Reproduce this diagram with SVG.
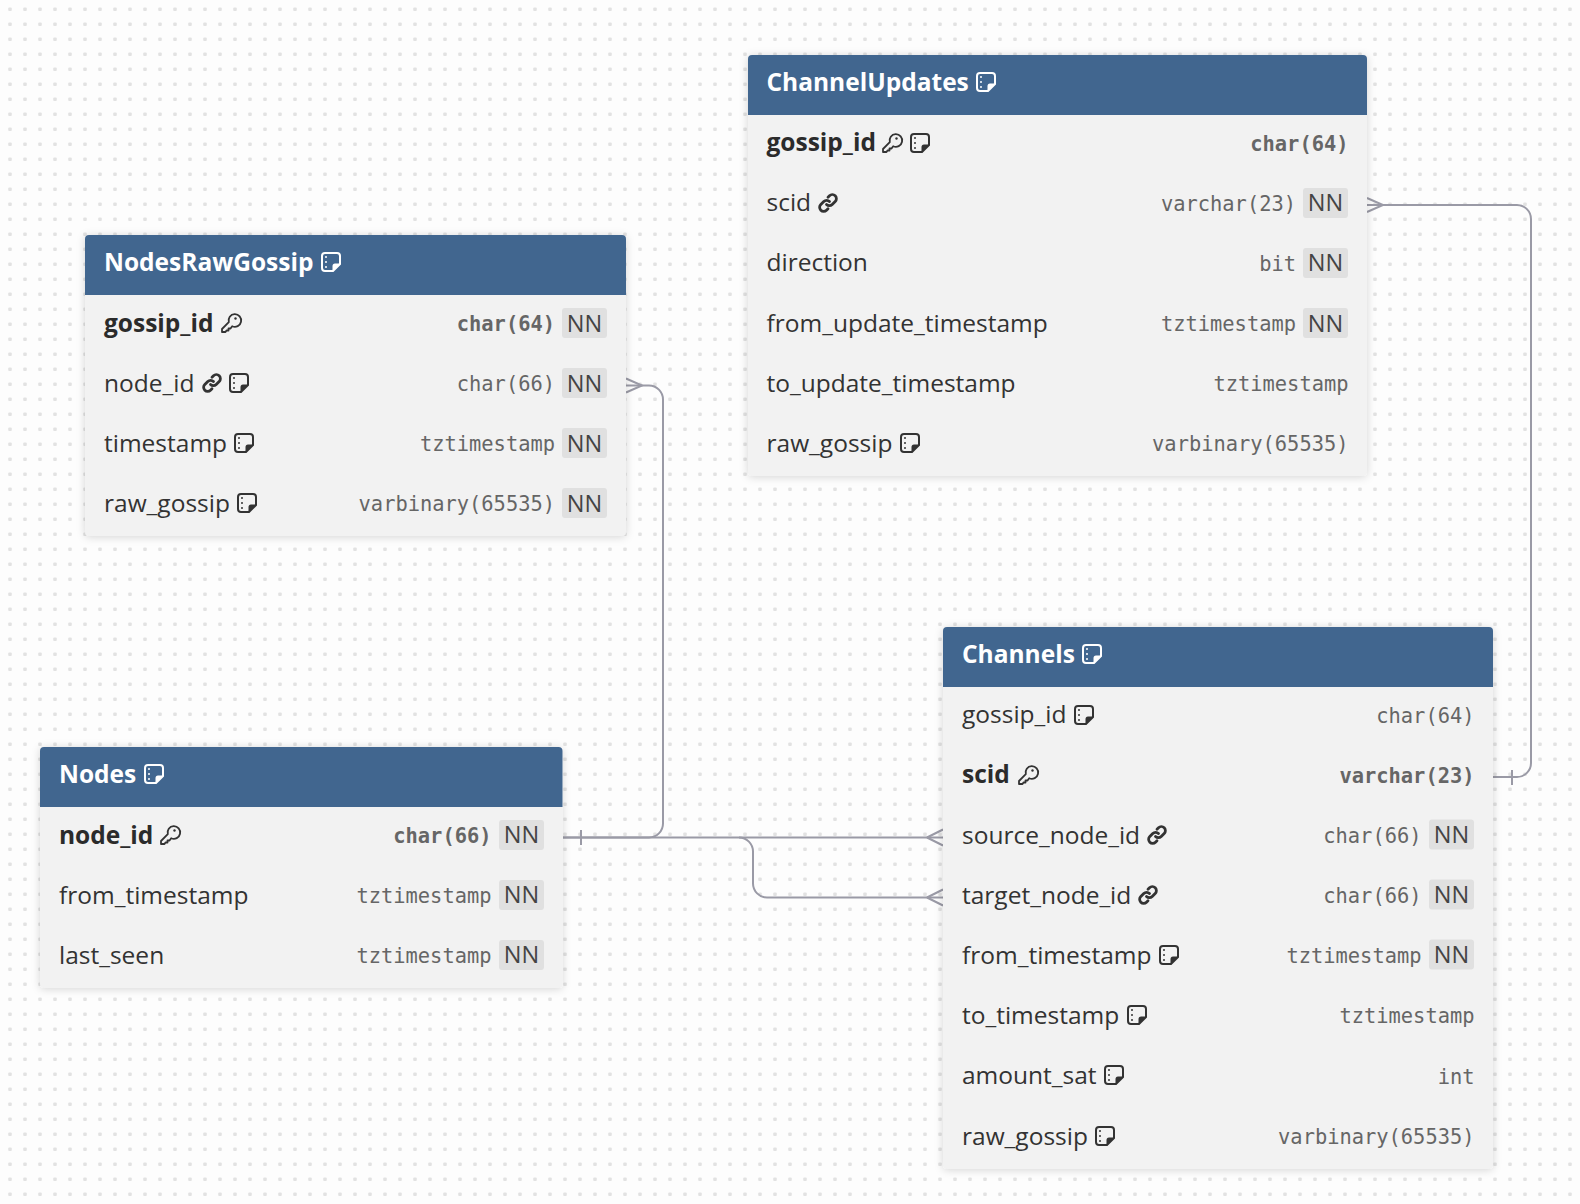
<svg xmlns="http://www.w3.org/2000/svg" width="1580" height="1204" viewBox="0 0 1580 1204">
<style>
.body{fill:#f2f2f2}
.hd{fill:#41668f}
.title{font:700 24.500px "Open Sans",sans-serif;fill:#fff}
.n{font:400 24.500px "Open Sans",sans-serif;fill:#333}
.pk{font:700 24.500px "Open Sans",sans-serif;fill:#2b2b2b}
.t{font:400 20.400px "DejaVu Sans Mono",monospace;fill:#666;text-anchor:end}
.tb{font:700 20.400px "DejaVu Sans Mono",monospace;fill:#666;text-anchor:end}
.nn{font:400 23.500px "Open Sans",sans-serif;fill:#444;text-anchor:middle}
.chip{fill:#e0e0e0}
.c{fill:none;stroke:#9a9aa6;stroke-width:2}
.i{color:#333}
.w{color:#fff}
</style>
<defs>
<pattern id="dots" width="15" height="15" patternUnits="userSpaceOnUse"><rect x="8.200" y="7.500" width="3.600" height="3.600" rx="1" fill="#e2e2e2"/></pattern>
<filter id="sh" x="-5%" y="-5%" width="110%" height="110%"><feDropShadow dx="0" dy="1" stdDeviation="4" flood-color="#000" flood-opacity="0.16"/></filter>
<symbol id="note" viewBox="0 0 20 20" width="20" height="20" overflow="visible"><path d="M4 1H16a3 3 0 0 1 3 3V12L12 19H4a3 3 0 0 1-3-3V4a3 3 0 0 1 3-3Z" fill="none" stroke="currentColor" stroke-width="2"/><path d="M11.500 19.500V14a2.500 2.500 0 0 1 2.500-2.500H19.500Z" fill="currentColor"/><path d="M5 5v.1M5 10v.1M5 15v.1" stroke="currentColor" stroke-width="2" stroke-linecap="round"/></symbol>
<symbol id="key" viewBox="0 0 20 20" width="20" height="20" overflow="visible"><path d="M7.800 9.200L1 16V19H4.500L5.500 17.500H7.500V15.500H9.500L11.200 13.200A6.300 6.300 0 1 0 7.800 9.200Z" fill="none" stroke="currentColor" stroke-width="1.800" stroke-linejoin="round"/><circle cx="14.500" cy="5.500" r="1.200" fill="currentColor"/></symbol>
<symbol id="link" viewBox="0 0 20 20" width="20" height="20" overflow="visible"><g fill="none" stroke="currentColor" stroke-width="2.800" stroke-linecap="round"><path d="M8.500 11.500a4 4 0 0 0 5.700 0l3-3a4 4 0 0 0-5.700-5.700l-1.500 1.500"/><path d="M11.500 8.500a4 4 0 0 0-5.700 0l-3 3a4 4 0 0 0 5.700 5.700l1.500-1.500"/></g></symbol>
</defs>
<rect width="1580" height="1204" fill="#fdfdfd"/>
<rect width="1580" height="1204" fill="url(#dots)"/>

<g id="connectors">
<path class="c" d="M626 385.500H649a14 14 0 0 1 14 14V823.500a14 14 0 0 1-14 14H563"/>
<path class="c" d="M626 378.500L642 385.500L626 392.500"/>
<path class="c" d="M581 830V845"/>
<path class="c" d="M563 837.500H943"/>
<path class="c" d="M927 837.500L943 829.500M927 837.500L943 845.500"/>
<path class="c" d="M739 837.500a14 14 0 0 1 14 14V883.500a14 14 0 0 0 14 14H943"/>
<path class="c" d="M927 897.500L943 889.500M927 897.500L943 905.500"/>
<path class="c" d="M1367 205H1517a14 14 0 0 1 14 14V763a14 14 0 0 1-14 14H1493"/>
<path class="c" d="M1367 198L1383 205L1367 212"/>
<path class="c" d="M1512 770V785"/>
</g>

<g id="NodesRawGossip">
<rect class="body" x="85" y="235" width="541" height="301" rx="4" filter="url(#sh)"/>
<path class="hd" d="M85 295V239a4 4 0 0 1 4-4H622a4 4 0 0 1 4 4V295Z"/>
<text class="title" x="104" y="271">NodesRawGossip</text><use href="#note" class="w" x="321" y="252"/>
<text class="pk" x="104" y="332">gossip_id</text><use href="#key" class="i" x="221" y="313"/>
<text class="tb" x="555" y="331">char(64)</text><rect class="chip" x="562" y="308" width="45" height="30" rx="3"/><text class="nn" x="584.500" y="331.500">NN</text>
<text class="n" x="104" y="392">node_id</text><use href="#link" class="i" x="202" y="373"/><use href="#note" class="i" x="229" y="373"/>
<text class="t" x="555" y="391">char(66)</text><rect class="chip" x="562" y="368" width="45" height="30" rx="3"/><text class="nn" x="584.500" y="391.500">NN</text>
<text class="n" x="104" y="452">timestamp</text><use href="#note" class="i" x="234" y="433"/>
<text class="t" x="555" y="451">tztimestamp</text><rect class="chip" x="562" y="428" width="45" height="30" rx="3"/><text class="nn" x="584.500" y="451.500">NN</text>
<text class="n" x="104" y="512">raw_gossip</text><use href="#note" class="i" x="237" y="493"/>
<text class="t" x="555" y="511">varbinary(65535)</text><rect class="chip" x="562" y="488" width="45" height="30" rx="3"/><text class="nn" x="584.500" y="511.500">NN</text>
</g>

<g id="ChannelUpdates">
<rect class="body" x="748" y="55" width="619" height="421" rx="4" filter="url(#sh)"/>
<path class="hd" d="M748 115V59a4 4 0 0 1 4-4H1363a4 4 0 0 1 4 4V115Z"/>
<text class="title" x="766.500" y="91">ChannelUpdates</text><use href="#note" class="w" x="976" y="72"/>
<text class="pk" x="766.500" y="151">gossip_id</text><use href="#key" class="i" x="882" y="133"/><use href="#note" class="i" x="910" y="133"/>
<text class="tb" x="1348.500" y="151">char(64)</text>
<text class="n" x="766.500" y="211">scid</text><use href="#link" class="i" x="818" y="193"/>
<text class="t" x="1296" y="211">varchar(23)</text><rect class="chip" x="1303" y="188" width="45" height="30" rx="3"/><text class="nn" x="1325.500" y="211">NN</text>
<text class="n" x="766.500" y="271">direction</text>
<text class="t" x="1296" y="271">bit</text><rect class="chip" x="1303" y="248" width="45" height="30" rx="3"/><text class="nn" x="1325.500" y="271">NN</text>
<text class="n" x="766.500" y="331.500">from_update_timestamp</text>
<text class="t" x="1296" y="331">tztimestamp</text><rect class="chip" x="1303" y="308" width="45" height="30" rx="3"/><text class="nn" x="1325.500" y="331.500">NN</text>
<text class="n" x="766.500" y="392">to_update_timestamp</text>
<text class="t" x="1348.500" y="391">tztimestamp</text>
<text class="n" x="766.500" y="452">raw_gossip</text><use href="#note" class="i" x="900" y="433"/>
<text class="t" x="1348.500" y="451">varbinary(65535)</text>
</g>

<g id="Channels">
<rect class="body" x="943" y="627" width="550" height="542" rx="4" filter="url(#sh)"/>
<path class="hd" d="M943 687V631a4 4 0 0 1 4-4H1489a4 4 0 0 1 4 4V687Z"/>
<text class="title" x="962" y="663">Channels</text><use href="#note" class="w" x="1082" y="644"/>
<text class="n" x="962" y="723">gossip_id</text><use href="#note" class="i" x="1074" y="705"/>
<text class="t" x="1474.500" y="723">char(64)</text>
<text class="pk" x="962" y="783">scid</text><use href="#key" class="i" x="1018" y="765"/>
<text class="tb" x="1474.500" y="783">varchar(23)</text>
<text class="n" x="962" y="843.500">source_node_id</text><use href="#link" class="i" x="1147" y="825"/>
<text class="t" x="1421.500" y="843">char(66)</text><rect class="chip" x="1429" y="819.500" width="45" height="30" rx="3"/><text class="nn" x="1451.500" y="843">NN</text>
<text class="n" x="962" y="904">target_node_id</text><use href="#link" class="i" x="1138" y="885"/>
<text class="t" x="1421.500" y="903">char(66)</text><rect class="chip" x="1429" y="879.500" width="45" height="30" rx="3"/><text class="nn" x="1451.500" y="903">NN</text>
<text class="n" x="962" y="964">from_timestamp</text><use href="#note" class="i" x="1159" y="945"/>
<text class="t" x="1421.500" y="963">tztimestamp</text><rect class="chip" x="1429" y="939.500" width="45" height="30" rx="3"/><text class="nn" x="1451.500" y="963">NN</text>
<text class="n" x="962" y="1024.300">to_timestamp</text><use href="#note" class="i" x="1127" y="1005"/>
<text class="t" x="1474.500" y="1023.300">tztimestamp</text>
<text class="n" x="962" y="1084.300">amount_sat</text><use href="#note" class="i" x="1104" y="1065"/>
<text class="t" x="1474.500" y="1083.500">int</text>
<text class="n" x="962" y="1145">raw_gossip</text><use href="#note" class="i" x="1095" y="1126"/>
<text class="t" x="1474.500" y="1144">varbinary(65535)</text>
</g>

<g id="Nodes">
<rect class="body" x="40" y="747" width="522.500" height="241" rx="4" filter="url(#sh)"/>
<path class="hd" d="M40 807V751a4 4 0 0 1 4-4H558.500a4 4 0 0 1 4 4V807Z"/>
<text class="title" x="59" y="783">Nodes</text><use href="#note" class="w" x="144" y="764"/>
<text class="pk" x="59" y="844">node_id</text><use href="#key" class="i" x="160" y="825"/>
<text class="tb" x="491.500" y="843">char(66)</text><rect class="chip" x="499" y="820" width="45" height="30" rx="3"/><text class="nn" x="521.500" y="843">NN</text>
<text class="n" x="59" y="904">from_timestamp</text>
<text class="t" x="491.500" y="903">tztimestamp</text><rect class="chip" x="499" y="880" width="45" height="30" rx="3"/><text class="nn" x="521.500" y="903">NN</text>
<text class="n" x="59" y="964">last_seen</text>
<text class="t" x="491.500" y="963">tztimestamp</text><rect class="chip" x="499" y="940" width="45" height="30" rx="3"/><text class="nn" x="521.500" y="963">NN</text>
</g>
</svg>
